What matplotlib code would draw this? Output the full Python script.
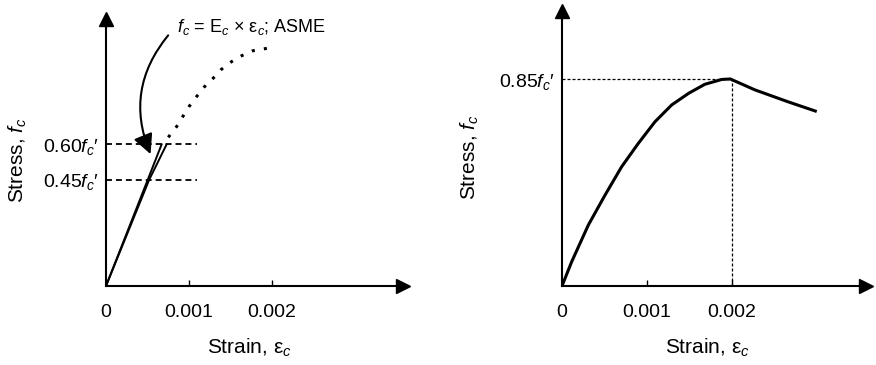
import matplotlib
matplotlib.use("Agg")
import matplotlib.pyplot as plt
from matplotlib.patches import FancyArrowPatch

plt.rcParams['font.family'] = ['Liberation Sans', 'DejaVu Sans']
plt.rcParams['mathtext.fontset'] = 'custom'
plt.rcParams['mathtext.rm'] = 'Liberation Sans'
plt.rcParams['mathtext.it'] = 'Liberation Sans:italic'

# left panel: linear part (ASME) and dotted full curve, in units of fc'
secant_strain = [0, 0.00067]
secant_stress = [0, 0.60]
initial_strain = [0, 0.00052, 0.00073]
initial_stress = [0, 0.45, 0.60]
dotted_strain = [0.00075, 0.00085, 0.00092, 0.00100, 0.00109, 0.00118, 0.00129,
                 0.00139, 0.00151, 0.00163, 0.00177, 0.00194]
dotted_stress = [0.630, 0.675, 0.715, 0.760, 0.802, 0.842, 0.880,
                 0.918, 0.950, 0.975, 0.997, 1.007]
left_levels = [0.45, 0.60]
left_level_labels = [r"0.45$f_c$′", r"0.60$f_c$′"]

# right panel: parabola + linear descent
right_strain = [0, 0.000114, 0.00031, 0.000506, 0.000702, 0.000898, 0.001094, 0.00129,
                0.00149, 0.00168, 0.00188, 0.00198, 0.00227, 0.00266, 0.00298]
right_stress = [0, 0.100, 0.251, 0.374, 0.491, 0.587, 0.676, 0.745,
                0.793, 0.830, 0.850, 0.852, 0.807, 0.758, 0.720]
peak_strain = 0.002
peak_stress = 0.85

xticks = [0, 0.001, 0.002]
xtick_labels = ["0", "0.001", "0.002"]

W, H = 876, 365
fig = plt.figure(figsize=(W / 100, H / 100), dpi=100)
ax1 = fig.add_axes([106 / W, 79 / H, 297 / W, 267 / H])
ax2 = fig.add_axes([562 / W, 79 / H, 304 / W, 275 / H])


def base_axes(ax, xmax, ymax):
    ax.set_xlim(0, xmax)
    ax.set_ylim(0, ymax)
    for s in ['top', 'right']:
        ax.spines[s].set_visible(False)
    for s in ['left', 'bottom']:
        ax.spines[s].set_linewidth(1.5)
    ax.plot(1, 0, '>k', ms=10, transform=ax.transAxes, clip_on=False)
    ax.plot(0, 1, '^k', ms=10, transform=ax.transAxes, clip_on=False)
    ax.set_xticks(xticks)
    ax.set_xticklabels(xtick_labels)
    ax.tick_params(axis='x', direction='in', length=4, width=1, pad=13, labelsize=14)
    ax.tick_params(axis='y', length=0, pad=5, labelsize=14)


# left
base_axes(ax1, 297 / 83 * 0.001, 267 / 236)
for lv in left_levels:
    ax1.plot([0, 0.0011], [lv, lv], color='black', lw=1.3, dashes=(3.3, 2.2))
ax1.plot(secant_strain, secant_stress, color='black', lw=1.4)
ax1.plot(initial_strain, initial_stress, color='black', lw=1.4)
ax1.plot(dotted_strain, dotted_stress, color='black', lw=2.2, linestyle=(0, (1, 3)))
ax1.set_yticks(left_levels)
ax1.set_yticklabels(left_level_labels)
ax1.text(0.000855, 1.097, r"$f_c$ = E$_c$ × ε$_c$; ASME", fontsize=13,
         ha='left', va='center')
arr = FancyArrowPatch((0.00077, 1.071), (0.00055, 0.548),
                      connectionstyle="arc3,rad=0.31",
                      arrowstyle="-|>,head_length=0.8,head_width=0.4",
                      mutation_scale=15, lw=1.5, color='black')
ax1.add_patch(arr)
ax1.text(-88 / 297, 0.47, r"Stress, $f_c$", rotation=90, fontsize=15,
         ha='center', va='center', transform=ax1.transAxes)
ax1.text(143 / 297, -62 / 267, r"Strain, ε$_c$", fontsize=15,
         ha='center', va='center', transform=ax1.transAxes)

# right
base_axes(ax2, 304 / 85 * 0.001, 275 / 243)
ax2.plot([0, peak_strain], [peak_stress, peak_stress], color='black', lw=0.9, dashes=(2.4, 1.6))
ax2.plot([peak_strain, peak_strain], [0, peak_stress], color='black', lw=0.9, dashes=(2.4, 1.6))
ax2.plot(right_strain, right_stress, color='black', lw=2.2)
ax2.set_yticks([peak_stress])
ax2.set_yticklabels([r"0.85$f_c$′"])
ax2.text(-92 / 304, 0.47, r"Stress, $f_c$", rotation=90, fontsize=15,
         ha='center', va='center', transform=ax2.transAxes)
ax2.text(145 / 304, -62 / 275, r"Strain, ε$_c$", fontsize=15,
         ha='center', va='center', transform=ax2.transAxes)

fig.savefig("out.png", dpi=100)
